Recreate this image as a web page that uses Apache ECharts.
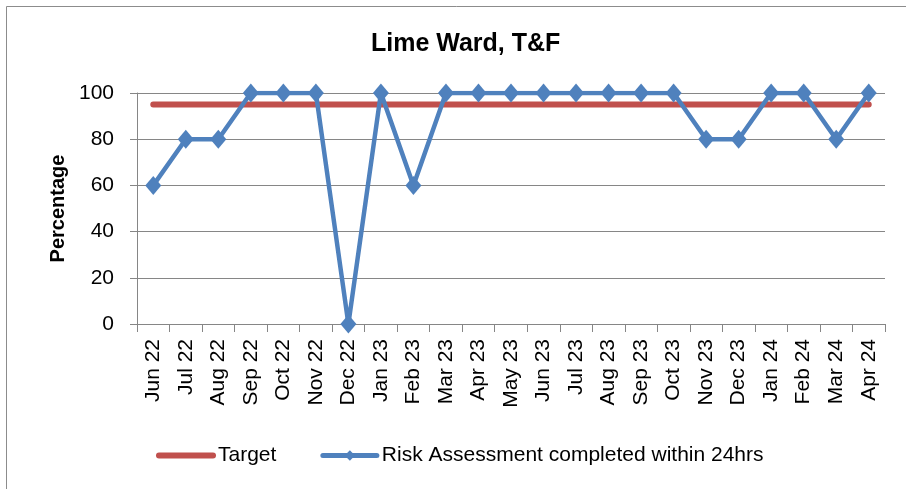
<!DOCTYPE html>
<html>
<head>
<meta charset="utf-8">
<script src="https://cdn.jsdelivr.net/npm/echarts@6/dist/echarts.min.js"></script>
<style>
  html, body { margin: 0; padding: 0; background: #fff; }
  #chart { width: 906px; height: 489px; }
</style>
</head>
<body>
<div id="chart"></div>
<script>
// Monthly categories
const months = ['Jun 22', 'Jul 22', 'Aug 22', 'Sep 22', 'Oct 22', 'Nov 22', 'Dec 22',
  'Jan 23', 'Feb 23', 'Mar 23', 'Apr 23', 'May 23', 'Jun 23', 'Jul 23', 'Aug 23',
  'Sep 23', 'Oct 23', 'Nov 23', 'Dec 23', 'Jan 24', 'Feb 24', 'Mar 24', 'Apr 24'];

// Target percentage per month
const target = [95, 95, 95, 95, 95, 95, 95, 95, 95, 95, 95, 95, 95, 95, 95, 95, 95, 95, 95, 95, 95, 95, 95];

// Risk assessments completed within 24hrs (%)
const riskAssessment = [60, 80, 80, 100, 100, 100, 0, 100, 60, 100, 100, 100, 100, 100, 100,
  100, 100, 80, 80, 100, 100, 80, 100];

const FONT = '"Liberation Sans", Arial, sans-serif';

const chart = echarts.init(document.getElementById('chart'), null, { renderer: 'canvas' });

chart.setOption({
  animation: false,
  backgroundColor: '#ffffff',
  textStyle: { fontFamily: FONT },
  graphic: [{
    type: 'rect',
    shape: { x: 6.5, y: 6.5, width: 920, height: 500 },
    style: { fill: 'none', stroke: '#8c8c8c', lineWidth: 1 },
    silent: true
  }],
  title: {
    text: 'Lime Ward, T&F',
    left: 366,
    top: 27,
    textStyle: { fontFamily: FONT, fontSize: 25, fontWeight: 'bold', color: '#000' }
  },
  legend: {
    left: 151,
    top: 440,
    itemWidth: 54,
    itemHeight: 13,
    itemGap: 44,
    textStyle: { fontFamily: FONT, fontSize: 21, color: '#000' },
    data: [
      { name: 'Target', itemStyle: { opacity: 0 }, lineStyle: { width: 6, cap: 'round' } },
      { name: 'Risk Assessment completed within 24hrs', lineStyle: { width: 5, cap: 'round' } }
    ]
  },
  grid: { left: 137, right: 21, top: 93, bottom: 165 },
  xAxis: {
    type: 'category',
    data: months,
    boundaryGap: true,
    axisLine: { show: true, lineStyle: { color: '#868686', width: 1 } },
    axisTick: { show: true, length: 8, alignWithLabel: false, lineStyle: { color: '#868686' } },
    axisLabel: {
      rotate: 90,
      interval: 0,
      margin: 15,
      fontFamily: FONT,
      fontSize: 21,
      color: '#000'
    }
  },
  yAxis: {
    type: 'value',
    min: 0,
    max: 100,
    interval: 20,
    name: 'Percentage',
    nameLocation: 'middle',
    nameGap: 68,
    nameRotate: 90,
    nameTextStyle: { fontFamily: FONT, fontSize: 20, fontWeight: 'bold', color: '#000' },
    axisLine: { show: true, lineStyle: { color: '#868686', width: 1 } },
    axisTick: { show: true, length: 7, inside: false, lineStyle: { color: '#868686' } },
    axisLabel: { fontFamily: FONT, fontSize: 21, color: '#000', margin: 23 },
    splitLine: { show: true, lineStyle: { color: '#868686', width: 1 } }
  },
  series: [
    {
      name: 'Target',
      type: 'line',
      data: target,
      symbol: 'none',
      lineStyle: { color: '#C0504D', width: 6, cap: 'round' },
      itemStyle: { color: '#C0504D' },
      z: 2
    },
    {
      name: 'Risk Assessment completed within 24hrs',
      type: 'line',
      data: riskAssessment,
      symbol: 'diamond',
      symbolSize: [16, 19],
      lineStyle: { color: '#4F81BD', width: 4.5 },
      itemStyle: { color: '#4F81BD' },
      z: 3
    }
  ]
});
</script>
</body>
</html>
